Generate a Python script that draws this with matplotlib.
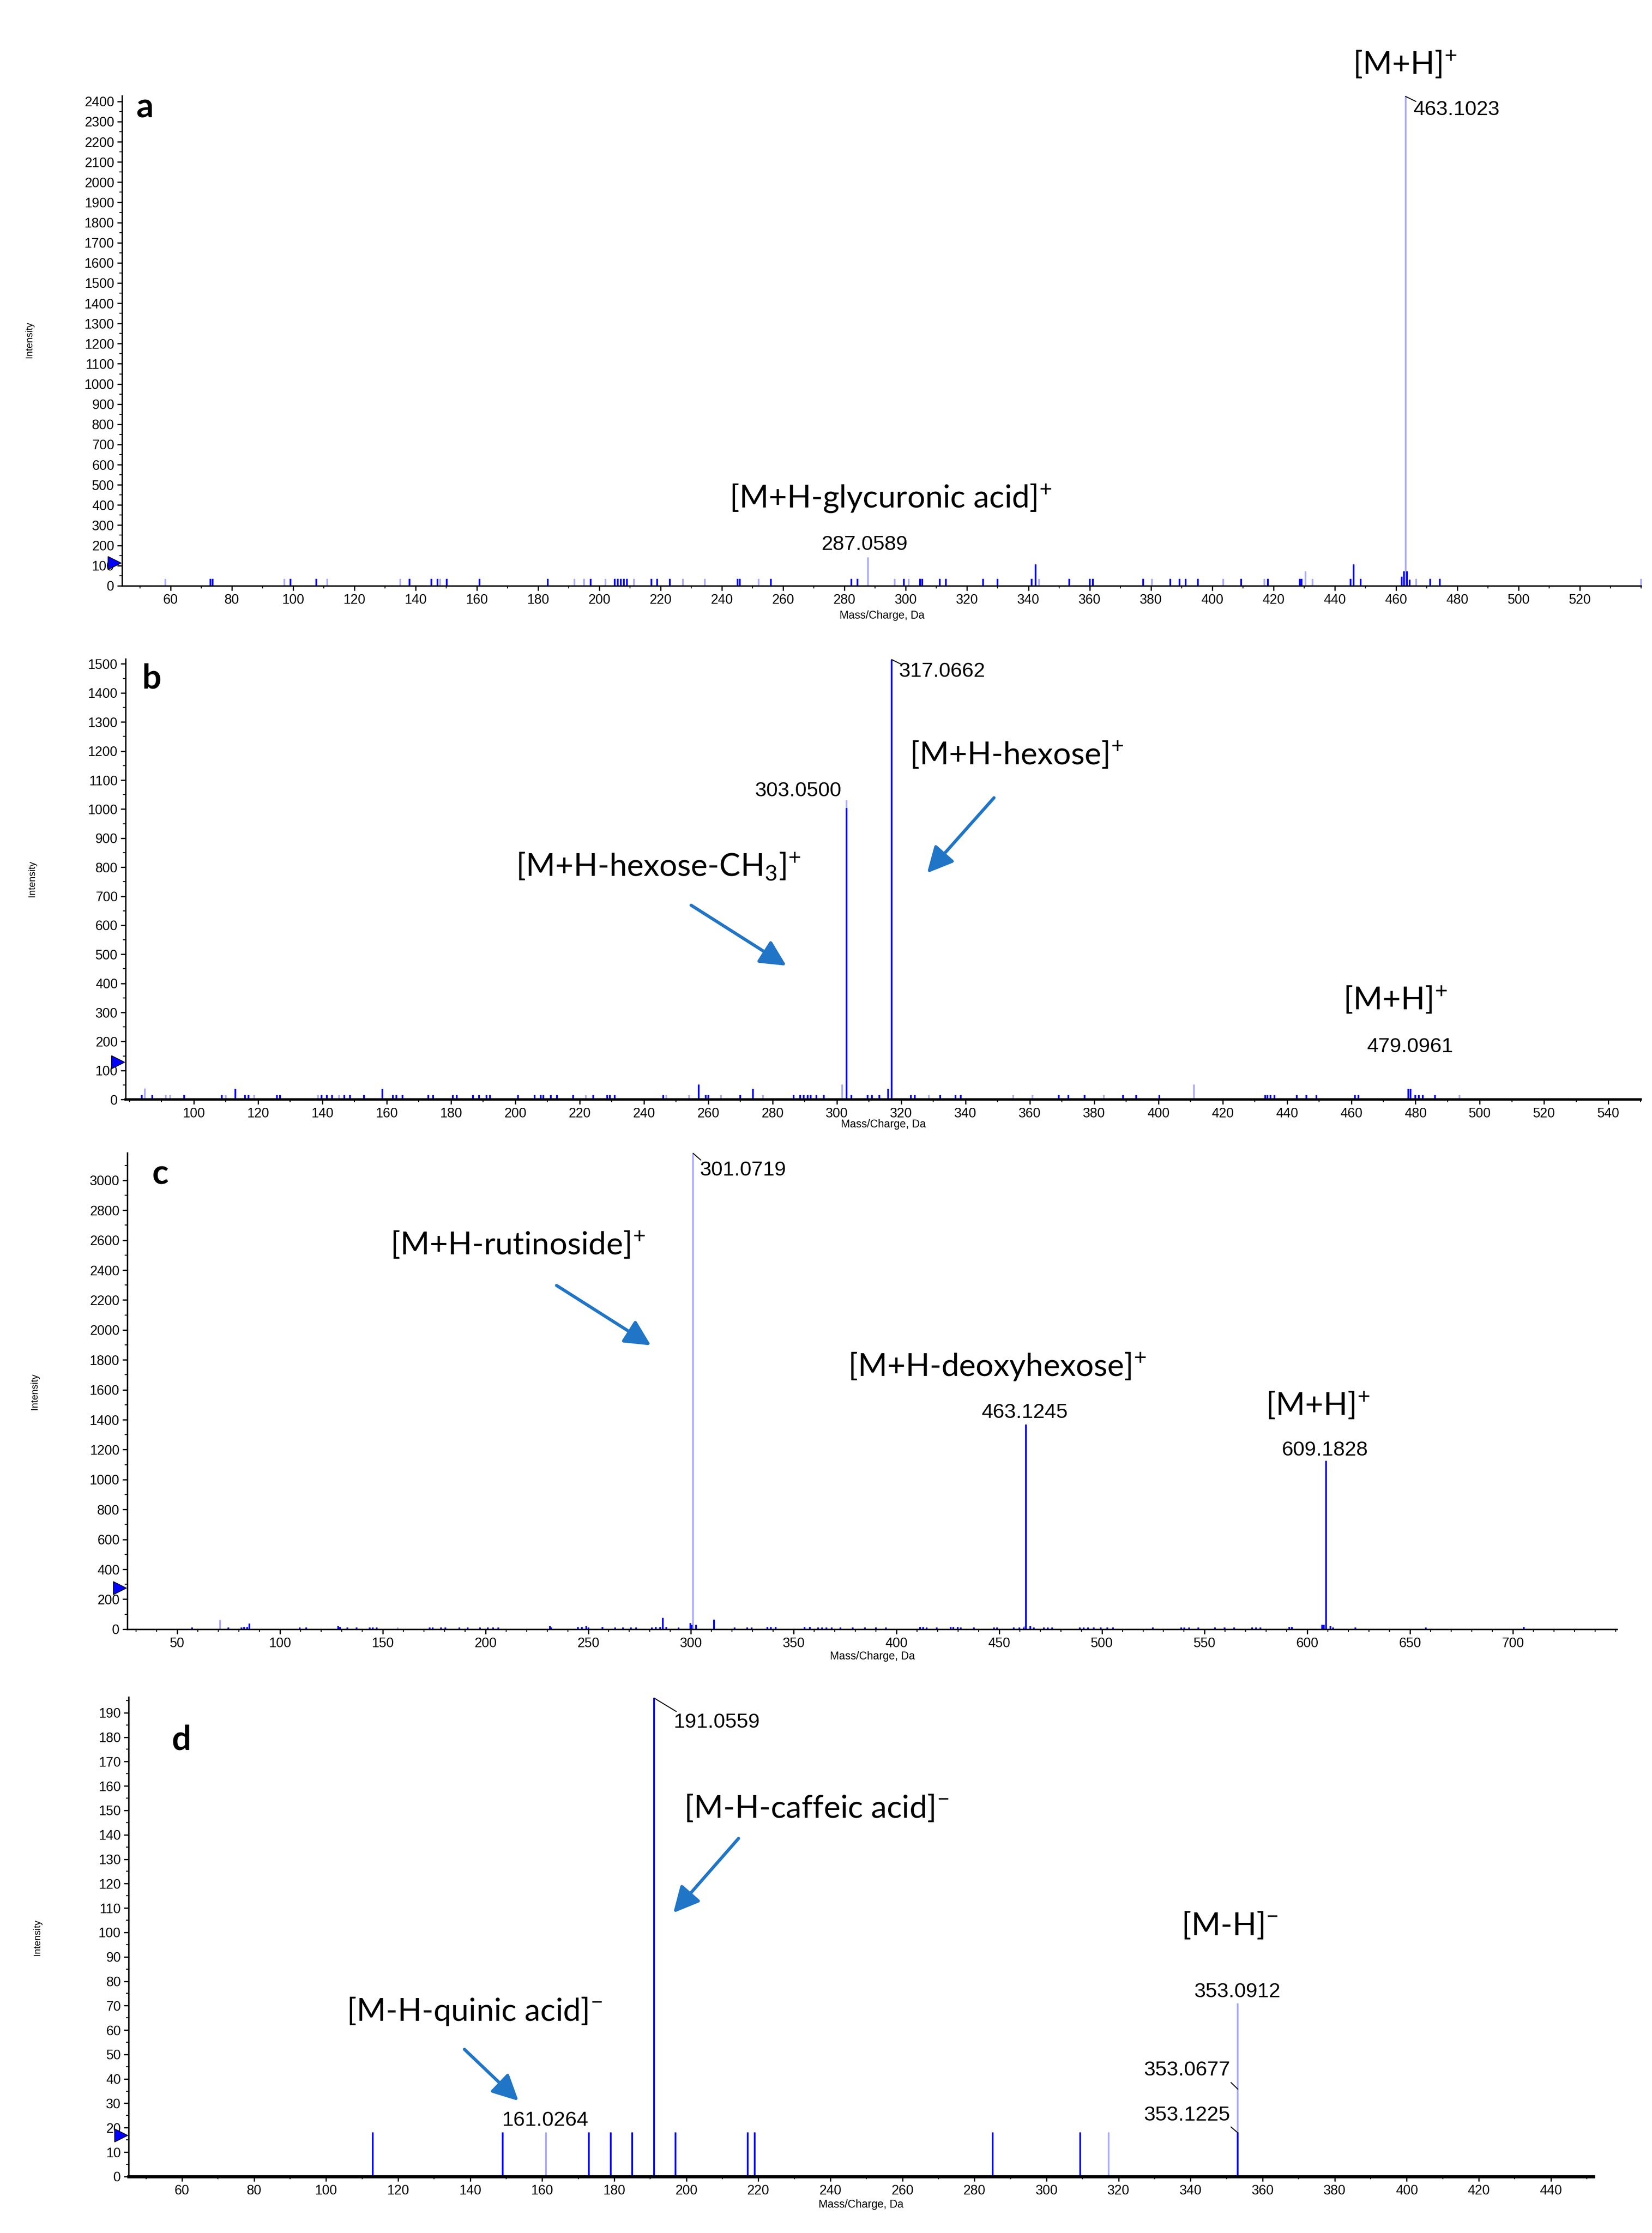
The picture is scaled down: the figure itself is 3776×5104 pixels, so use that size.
import numpy as np
import matplotlib
matplotlib.use("Agg")
import matplotlib.pyplot as plt
from matplotlib.ticker import MultipleLocator
import matplotlib.transforms as mtransforms

plt.rcParams['font.family'] = ['Liberation Sans', 'DejaVu Sans']
plt.rcParams['mathtext.fontset'] = 'custom'
plt.rcParams['mathtext.rm'] = 'Lato'
plt.rcParams['mathtext.it'] = 'Lato:italic'
plt.rcParams['mathtext.bf'] = 'Lato:bold'

# ---------------- panel a ----------------
a_dark_mz = [73.0, 73.8, 99.1, 107.6, 138.0, 145.1, 147.2, 150.1, 160.9, 183.2, 197.2,
             205.0, 206.0, 207.0, 208.0, 209.0, 217.0, 218.8, 223.0, 245.1, 245.8, 256.0,
             282.3, 284.3, 299.4, 304.7, 305.4, 311.1, 313.1, 325.2, 330.0, 341.0, 342.4,
             353.4, 360.0, 361.0, 377.5, 386.3, 389.4, 391.4, 395.3, 409.4, 418.2, 428.6,
             429.2, 445.2, 446.2, 448.4, 461.9, 462.6, 463.6, 464.4, 471.1, 474.3]
a_dark_int = [35, 35, 35, 35, 35, 35, 35, 35, 35, 35, 35,
              35, 35, 35, 35, 35, 35, 35, 35, 35, 35, 35,
              35, 35, 35, 35, 35, 35, 35, 35, 35, 35, 105,
              35, 35, 35, 35, 35, 35, 35, 35, 35, 35, 35,
              35, 35, 105, 35, 45, 70, 70, 30, 35, 35]
a_light_mz = [58.3, 97.2, 111.2, 135.0, 148.0, 191.8, 195.0, 202.0, 211.2, 227.3, 234.4,
              252.0, 287.6, 296.4, 301.0, 343.5, 380.4, 403.6, 417.0, 430.5, 432.8,
              463.1, 466.6, 540.0]
a_light_int = [35, 35, 35, 35, 35, 35, 35, 35, 35, 35, 35,
               35, 140, 35, 35, 35, 35, 35, 35, 70, 35,
               2425, 35, 35]
a_xticks = np.arange(60, 521, 20)

# ---------------- panel b ----------------
b_dark_mz = [83.8, 87.1, 97.0, 108.7, 112.9, 116.0, 117.0, 125.9, 126.9, 139.7, 141.4, 143.0,
             146.8, 148.6, 153.0, 158.7, 162.0, 163.0, 165.0, 172.9, 174.5, 180.6, 181.8,
             186.9, 188.8, 191.0, 192.1, 200.9, 206.0, 208.0, 208.8, 211.0, 212.9, 218.0,
             224.3, 228.6, 229.4, 230.9, 246.0, 257.0, 259.2, 260.0, 270.0, 273.9, 286.6,
             288.6, 289.7, 291.0, 291.9, 293.7, 296.0, 303.05, 304.6, 309.6, 311.0, 313.2,
             316.0, 317.07, 323.0, 324.3, 332.2, 336.9, 338.6, 369.1, 372.0, 377.1, 389.0,
             393.1, 400.3, 433.2, 434.0, 434.9, 436.1, 443.1, 446.1, 449.2, 461.2, 462.2,
             477.8, 478.5, 480.0, 481.0, 482.2, 486.0]
b_dark_int = [16, 16, 16, 16, 36, 16, 16, 16, 16, 16, 16, 16,
              16, 16, 16, 36, 16, 16, 16, 16, 16, 16, 16,
              16, 16, 16, 16, 16, 16, 16, 16, 16, 16, 16,
              16, 16, 16, 16, 16, 52, 16, 16, 16, 37, 16,
              16, 16, 16, 16, 16, 16, 1003, 16, 16, 16, 16,
              36, 1515, 16, 16, 16, 16, 16, 16, 16, 16, 16,
              16, 16, 16, 16, 16, 16, 16, 16, 16, 16, 16,
              36, 36, 16, 16, 16, 16]
b_light_mz = [84.8, 91.3, 92.7, 110.0, 118.8, 138.7, 145.2, 222.0, 247.0, 254.0, 264.0,
              277.0, 301.7, 303.05, 328.6, 354.9, 360.9, 383.0, 411.1, 493.7]
b_light_int = [38, 16, 16, 16, 16, 16, 16, 16, 16, 16, 16,
               16, 52, 1030, 16, 16, 16, 16, 52, 16]
b_xticks = np.arange(100, 541, 20)

# ---------------- panel c ----------------
c_dark_mz = [57.2, 74.8, 81.2, 82.5, 84.0, 85.1, 109.6, 112.7, 128.4, 129.2, 132.8, 137.2,
             143.6, 145.2, 147.0, 172.8, 174.3, 178.4, 180.5, 187.2, 191.3, 197.3, 201.1,
             203.7, 206.3, 231.3, 232.1, 245.0, 247.0, 249.0, 250.0, 257.0, 263.0, 266.9,
             270.8, 273.4, 281.0, 283.0, 285.0, 286.3, 288.0, 294.0, 299.7, 300.4, 302.5,
             311.3, 321.3, 327.5, 329.6, 337.3, 339.0, 341.3, 355.3, 357.9, 362.0, 363.8,
             366.0, 368.6, 372.7, 378.8, 384.7, 390.0, 394.9, 411.5, 412.9, 414.7, 419.6,
             426.5, 427.6, 429.8, 431.4, 437.8, 447.5, 449.0, 457.1, 459.8, 461.9, 463.12,
             465.1, 466.8, 471.8, 473.7, 475.9, 489.3, 491.2, 493.3, 496.0, 499.5, 502.7,
             505.4, 524.7, 538.6, 540.2, 542.4, 546.9, 555.0, 559.8, 564.3, 573.2, 575.1,
             577.2, 591.2, 592.5, 607.2, 608.0, 609.18, 611.3, 612.6, 623.3, 657.6, 705.4]
c_dark_int = [12, 12, 12, 15, 15, 37, 12, 12, 20, 15, 12, 12,
              12, 12, 12, 12, 12, 12, 12, 12, 12, 12, 12,
              12, 12, 20, 12, 15, 15, 20, 12, 15, 12, 12,
              12, 12, 12, 15, 15, 77, 15, 12, 40, 30, 30,
              65, 12, 12, 12, 15, 15, 15, 15, 15, 12, 12,
              12, 12, 12, 12, 12, 12, 12, 15, 15, 12, 12,
              15, 15, 15, 12, 12, 12, 12, 12, 12, 12, 1369,
              20, 12, 12, 12, 12, 12, 12, 12, 12, 12, 12,
              12, 12, 12, 12, 12, 12, 12, 12, 12, 12, 12,
              12, 15, 15, 30, 30, 1125, 20, 12, 12, 12, 15]
c_light_mz = [70.9, 157.3, 301.07, 462.5]
c_light_int = [60, 12, 3180, 20]
c_xticks = np.arange(50, 701, 50)

# ---------------- panel d ----------------
d_dark_mz = [113.0, 149.0, 173.0, 179.0, 185.0, 191.06, 197.0, 217.0, 219.0, 285.0, 309.3, 353.1]
d_dark_int = [18, 18, 18, 18, 18, 196, 18, 18, 18, 18, 18, 18]
d_light_mz = [161.0, 317.2, 353.1]
d_light_int = [18, 18, 71]
d_xticks = np.arange(60, 441, 20)

DARK = '#0000ff'
LIGHT = '#aaaaff'
ARROW = '#2175c6'
W, H = 3776, 5104

fig = plt.figure(figsize=(W / 400, H / 400), dpi=400)


def panel(rect, xlim, ylim, xticks, xmin, ymaj, ymin, dark, light, letter, letter_pos,
          thresh, spine_w):
    ax = fig.add_axes(rect)
    ax.vlines(light[0], 0, light[1], colors=LIGHT, lw=0.7, clip_on=False)
    ax.vlines(dark[0], 0, dark[1], colors=DARK, lw=0.7, clip_on=False)
    ax.set_xlim(*xlim)
    ax.set_ylim(*ylim)
    ax.spines['top'].set_visible(False)
    ax.spines['right'].set_visible(False)
    ax.spines['left'].set_linewidth(0.6)
    ax.spines['bottom'].set_linewidth(spine_w)
    ax.set_xticks(xticks)
    ax.xaxis.set_minor_locator(MultipleLocator(xmin))
    ax.yaxis.set_major_locator(MultipleLocator(ymaj))
    ax.yaxis.set_minor_locator(MultipleLocator(ymin))
    ax.tick_params(which='major', direction='out', length=2, width=0.5, labelsize=5.5, pad=1.2)
    ax.tick_params(which='minor', direction='out', length=1, width=0.4)
    ax.text(letter_pos[0], letter_pos[1], letter, transform=ax.transAxes, fontsize=14,
            fontweight='bold', family='Lato', ha='center', va='center')
    # threshold marker on the y axis
    tr = mtransforms.blended_transform_factory(ax.transAxes, ax.transData)
    ax.plot([-0.005], [thresh], marker='>', ms=5.5, color='blue', mec='black', mew=0.3,
            transform=tr, clip_on=False)
    return ax


def label(ax, txt, x, y, ha='center'):
    ax.text(x, y, txt, fontsize=13, family='Lato', ha=ha, va='center')


def mass(ax, txt, x, y, ha='center'):
    ax.text(x, y, txt, fontsize=8.5, ha=ha, va='center')


def leader(ax, p0, p1):
    ax.annotate('', xy=p1, xytext=p0,
                arrowprops=dict(arrowstyle='-', lw=0.4, color='black', shrinkA=0, shrinkB=0))


def blue_arrow(ax, tail, tip):
    ax.annotate('', xy=tip, xytext=tail,
                arrowprops=dict(arrowstyle='-|>,head_length=0.9,head_width=0.45', lw=1.3,
                                color=ARROW, shrinkA=0, shrinkB=0))


# a
ax = panel([0.0739, 0.7377, 0.9195, 0.2194], (44.2, 540), (0, 2428), a_xticks, 10, 100, 50,
           (a_dark_mz, a_dark_int), (a_light_mz, a_light_int), 'a', (0.015, 0.975), 113, 0.6)
label(ax, '[M+H]$^{+}$', 462.9, 2583)
label(ax, '[M+H-glycuronic acid]$^{+}$', 295, 432)
mass(ax, '463.1023', 465.7, 2358, 'left')
mass(ax, '287.0589', 286.6, 204)
leader(ax, (463.1, 2425), (466.5, 2400))

# b
ax = panel([0.0760, 0.5076, 0.9171, 0.1973], (78.8, 550), (0, 1517), b_xticks, 10, 100, 50,
           (b_dark_mz, b_dark_int), (b_light_mz, b_light_int), 'b', (0.017, 0.955), 128, 1.0)
label(ax, '[M+H-hexose]$^{+}$', 356, 1187)
label(ax, '[M+H-hexose-CH$_{3}$]$^{+}$', 244.5, 803)
label(ax, '[M+H]$^{+}$', 473.7, 343)
mass(ax, '317.0662', 319.3, 1473, 'left')
mass(ax, '303.0500', 287.9, 1063)
mass(ax, '479.0961', 478.3, 181)
leader(ax, (317.07, 1515), (320.0, 1499))
blue_arrow(ax, (254.7, 669), (284.3, 461))
blue_arrow(ax, (348.9, 1039), (328.1, 780))

# c
ax = panel([0.0771, 0.2704, 0.9017, 0.2133], (25.7, 750.7), (0, 3183), c_xticks, 10, 200, 100,
           (c_dark_mz, c_dark_int), (c_light_mz, c_light_int), 'c', (0.022, 0.955), 275, 0.6)
label(ax, '[M+H-rutinoside]$^{+}$', 215.8, 2569)
label(ax, '[M+H-deoxyhexose]$^{+}$', 449, 1753)
label(ax, '[M+H]$^{+}$', 605, 1497)
mass(ax, '301.0719', 304.2, 3068, 'left')
mass(ax, '463.1245', 462.6, 1447)
mass(ax, '609.1828', 608.6, 1195)
leader(ax, (301.07, 3180), (304.8, 3135))
blue_arrow(ax, (234.6, 2297), (280.5, 1897))

# d
ax = panel([0.0779, 0.0253, 0.8866, 0.2147], (45.2, 451.8), (0, 196.4), d_xticks, 10, 10, 5,
           (d_dark_mz, d_dark_int), (d_light_mz, d_light_int), 'd', (0.036, 0.91), 16.8, 1.3)
label(ax, '[M-H-caffeic acid]$^{-}$', 236.1, 151)
label(ax, '[M-H]$^{-}$', 350.9, 103)
label(ax, '[M-H-quinic acid]$^{-}$', 141.2, 67.7)
mass(ax, '191.0559', 196.4, 186, 'left')
mass(ax, '353.0912', 352.9, 75.6)
mass(ax, '353.0677', 351.0, 43.5, 'right')
mass(ax, '353.1225', 351.0, 25.1, 'right')
mass(ax, '161.0264', 160.8, 22.9)
leader(ax, (191.06, 196), (197.2, 190.5))
leader(ax, (351.2, 38.5), (353.1, 35.8))
leader(ax, (351.2, 20.3), (353.1, 17.9))
blue_arrow(ax, (214.5, 138.5), (196.4, 108))
blue_arrow(ax, (138.4, 52.1), (153.4, 31))

# axis titles, placed as in the original layout
for x, y in [(67, 777), (73, 2009), (79, 3180), (85, 4428)]:
    fig.text(x / W, 1 - y / H, 'Intensity', rotation=90, fontsize=4, ha='center', va='center')
for x, y in [(2016, 1407), (2019, 2570), (1994, 3786), (1968, 5039)]:
    fig.text(x / W, 1 - y / H, 'Mass/Charge, Da', fontsize=4.5, ha='center', va='center')

fig.savefig('out.png', dpi=400, facecolor='white')
